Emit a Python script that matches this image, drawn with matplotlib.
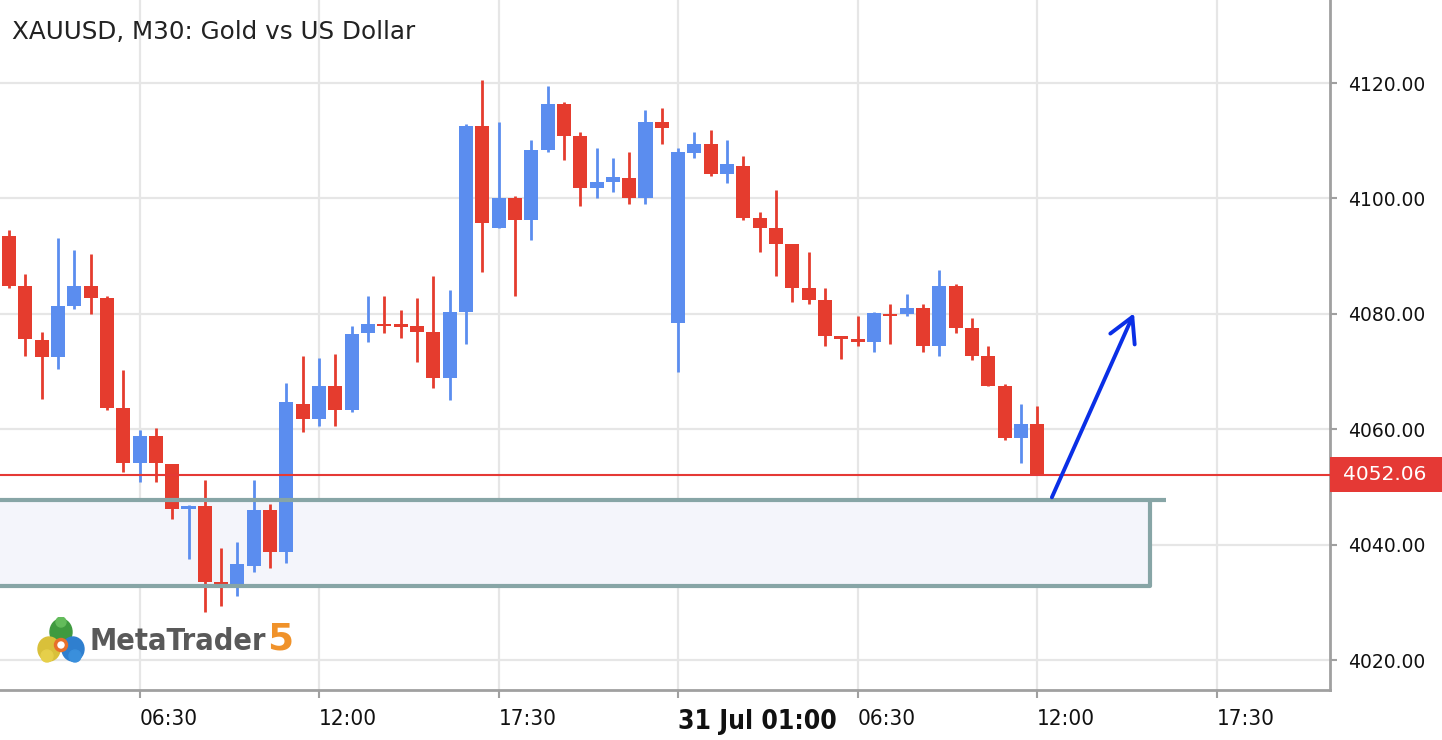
import matplotlib
matplotlib.use("Agg")
import matplotlib.pyplot as plt
from matplotlib.patches import Rectangle, Circle, Ellipse
import numpy as np

# ---- data (30-minute candles, index-based x axis) ----
opens = [4093.5, 4084.8, 4075.5, 4072.5, 4081.4, 4084.8, 4082.8, 4063.7, 4054.1, 4058.8,
         4054.0, 4046.1, 4046.7, 4033.6, 4033.0, 4036.3, 4046.0, 4038.8, 4064.4, 4061.7,
         4067.5, 4063.3, 4076.6, 4078.2, 4078.2, 4077.9, 4076.9, 4068.9, 4080.4, 4112.5,
         4094.9, 4100.1, 4096.3, 4108.4, 4116.4, 4110.8, 4101.9, 4102.8, 4103.6, 4100.1,
         4113.2, 4078.4, 4107.8, 4109.4, 4104.3, 4105.6, 4096.7, 4094.9, 4092.1, 4084.5,
         4082.4, 4076.2, 4075.6, 4075.2, 4080.0, 4080.0, 4081.0, 4074.5, 4084.8, 4077.5,
         4072.7, 4067.5, 4058.5, 4060.9]
highs = [4094.5, 4086.9, 4076.8, 4093.1, 4091.1, 4090.4, 4083.1, 4070.3, 4059.9, 4060.2,
         4054.0, 4046.9, 4051.2, 4039.4, 4040.5, 4051.2, 4047.0, 4068.1, 4072.7, 4072.4,
         4073.0, 4077.9, 4083.1, 4083.1, 4080.7, 4082.7, 4086.6, 4084.1, 4112.9, 4120.5,
         4113.2, 4100.4, 4110.1, 4119.5, 4116.7, 4111.6, 4108.8, 4107.0, 4108.0, 4115.3,
         4115.7, 4108.7, 4111.5, 4111.9, 4110.1, 4107.3, 4097.6, 4101.5, 4092.1, 4090.8,
         4084.4, 4076.2, 4079.6, 4080.4, 4081.7, 4083.4, 4081.7, 4087.6, 4085.2, 4079.3,
         4074.4, 4067.8, 4064.4, 4064.0]
lows = [4084.5, 4072.7, 4065.2, 4070.4, 4080.8, 4080.0, 4063.4, 4052.6, 4050.9, 4050.9,
        4044.4, 4037.5, 4028.4, 4029.4, 4031.1, 4035.3, 4036.0, 4036.8, 4059.6, 4060.6,
        4060.5, 4063.0, 4075.2, 4076.6, 4075.9, 4071.7, 4067.2, 4065.1, 4074.8, 4087.3,
        4094.9, 4083.1, 4092.8, 4108.1, 4106.7, 4098.7, 4100.1, 4101.1, 4099.0, 4099.0,
        4109.4, 4070.0, 4107.1, 4103.9, 4102.6, 4096.3, 4090.8, 4086.6, 4082.1, 4081.7,
        4074.5, 4072.1, 4074.5, 4073.4, 4074.8, 4079.6, 4073.4, 4072.7, 4076.6, 4072.0,
        4067.5, 4058.1, 4054.1, 4052.06]
closes = [4084.9, 4075.6, 4072.5, 4081.4, 4084.8, 4082.8, 4063.7, 4054.1, 4058.8, 4054.1,
          4046.1, 4046.7, 4033.6, 4033.2, 4036.6, 4046.0, 4038.8, 4064.7, 4061.7, 4067.5,
          4063.3, 4076.5, 4078.2, 4077.9, 4077.8, 4076.9, 4068.9, 4080.4, 4112.6, 4095.7,
          4100.1, 4096.3, 4108.4, 4116.4, 4110.8, 4101.9, 4102.8, 4103.7, 4100.1, 4113.2,
          4112.3, 4108.0, 4109.4, 4104.3, 4106.0, 4096.7, 4094.9, 4092.1, 4084.5, 4082.4,
          4076.2, 4075.6, 4075.2, 4080.1, 4079.6, 4081.0, 4074.5, 4084.8, 4077.5, 4072.7,
          4067.5, 4058.5, 4060.9, 4052.06]

tick_idx = [8, 19, 30, 41, 52, 63, 74]
tick_labels = ["06:30", "12:00", "17:30", "31 Jul 01:00", "06:30", "12:00", "17:30"]
price_ticks = [4020, 4040, 4060, 4080, 4100, 4120]
current_price = 4052.06
zone_top, zone_bottom, zone_end, zone_line_end = 4047.7, 4032.8, 69.9, 70.9
arrow_start = (63.9, 4048.2)
arrow_end = (68.93, 4080.1)

title = "XAUUSD, M30: Gold vs US Dollar"

UP = "#5b8def"
DOWN = "#e53c2e"
W, H = 1442, 740

fig = plt.figure(figsize=(W / 100, H / 100), dpi=100)
fig.patch.set_facecolor("white")
ax = fig.add_axes([0, 50 / H, 1330 / W, 690 / H])
ax.set_xlim(-0.55, 80.94)
ax.set_ylim(4014.8, 4134.4)

# grid
for t in tick_idx:
    ax.axvline(t, color="#e6e6e6", lw=1.6, zorder=0)
for p in price_ticks:
    ax.axhline(p, color="#e6e6e6", lw=1.6, zorder=0)

# zone
ax.add_patch(Rectangle((-2, zone_bottom), zone_end + 2, zone_top - zone_bottom,
                       facecolor="#f4f5fb", edgecolor="none", zorder=1))
ax.plot([-2, zone_line_end], [zone_top, zone_top], color="#87a5a6", lw=3, zorder=4,
        solid_capstyle="butt")
ax.plot([-2, zone_end, zone_end], [zone_bottom, zone_bottom, zone_top], color="#87a5a6",
        lw=3, zorder=4, solid_capstyle="butt")

# candles
x = np.arange(len(opens))
o = np.array(opens); c = np.array(closes)
hi = np.array(highs); lo = np.array(lows)
cols = [UP if cc >= oo else DOWN for oo, cc in zip(o, c)]
ax.vlines(x, lo, hi, colors=cols, lw=2, zorder=2)
bottoms = np.minimum(o, c)
heights = np.maximum(np.abs(c - o), 0.4)
ax.bar(x, heights, bottom=bottoms, width=0.86, color=cols, zorder=3, linewidth=0)

# current price line
ax.axhline(current_price, color="#e53935", lw=1.5, zorder=3)

# arrow
ax.annotate("", xy=arrow_end, xytext=arrow_start,
            arrowprops=dict(arrowstyle="->,head_length=0.87,head_width=0.48",
                            mutation_scale=20, color="#0a2fe6", lw=2.8,
                            shrinkA=0, shrinkB=0), zorder=5)

# spines / ticks
for s in ["top", "left"]:
    ax.spines[s].set_visible(False)
for s in ["right", "bottom"]:
    ax.spines[s].set_color("#a0a0a0")
    ax.spines[s].set_linewidth(2)
ax.yaxis.tick_right()
ax.set_yticks(price_ticks)
ax.set_yticklabels([f"{p:.2f}" for p in price_ticks])
ax.tick_params(axis="y", length=5, width=1.5, color="#a0a0a0", pad=8,
               labelsize=13.5, labelcolor="#111111")
ax.set_xticks(tick_idx)
ax.set_xticklabels(tick_labels)
ax.tick_params(axis="x", length=6, width=1.5, color="#a0a0a0", pad=8,
               labelsize=16, labelcolor="#111111")
for lab in ax.get_xticklabels():
    lab.set_horizontalalignment("left")
    lab.set_stretch("condensed")
    if "Jul" in lab.get_text():
        lab.set_fontweight("bold")
        lab.set_fontsize(19)

# price label box
fig.patches.append(Rectangle((1330 / W, 1 - 492 / H), 112 / W, 35 / H,
                             transform=fig.transFigure, facecolor="#e53935",
                             edgecolor="none", zorder=5))
fig.text(1385 / W, 1 - 475 / H, f"{current_price:.2f}", color="white",
         ha="center", va="center", fontsize=14.5, zorder=6)

# title
fig.text(12 / W, 1 - 32 / H, title, fontsize=17.7, color="#222222", va="center", ha="left")

# MetaTrader logo
fig.text(89 / W, 1 - 641 / H, "MetaTrader", fontsize=22, fontweight="bold",
         color="#595959", va="center", ha="left", stretch="condensed")
fig.text(267 / W, 1 - 640 / H, "5", fontsize=27, fontweight="bold",
         color="#f0922a", va="center", ha="left")
iax = fig.add_axes([37 / W, (740 - 665) / H, 48 / W, 48 / H])
iax.set_xlim(0, 48); iax.set_ylim(0, 48); iax.axis("off")
iax.add_patch(Ellipse((24, 33), 22, 26, color="#3f9a3f"))
iax.add_patch(Circle((24, 43), 5, color="#63bb5b"))
iax.add_patch(Ellipse((36, 16), 22, 24, color="#2f7fcf"))
iax.add_patch(Circle((38, 9), 6, color="#3a8fdc"))
iax.add_patch(Ellipse((12, 16), 22, 24, color="#d9c03a"))
iax.add_patch(Circle((10, 9), 6, color="#e6cf4a"))
iax.add_patch(Circle((24, 20), 6.5, color="#e8702a"))
iax.add_patch(Circle((24, 20), 3, color="#ffffff"))

fig.savefig("out.png", dpi=100)
